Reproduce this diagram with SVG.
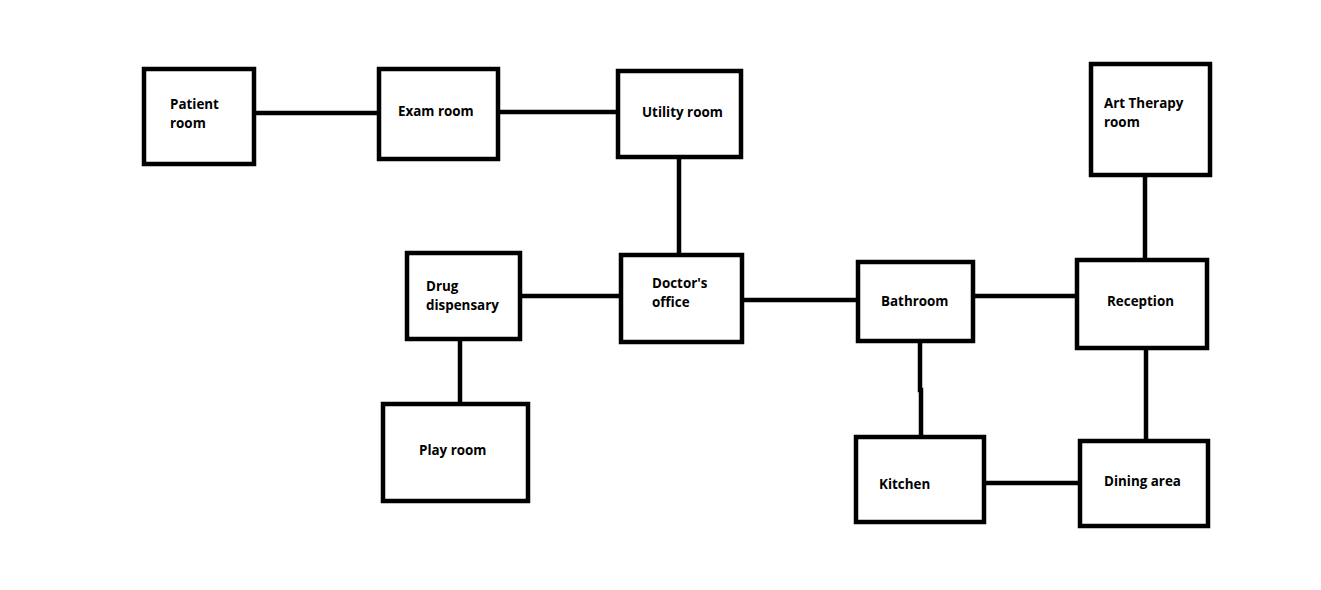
<svg xmlns="http://www.w3.org/2000/svg" width="1321" height="590" viewBox="0 0 1321 590">
<style>
.box{fill:#fff;stroke:#000;stroke-width:4.5}
.lbl{font-family:"Open Sans","DejaVu Sans",sans-serif;font-weight:bold;font-size:13.4px;fill:#000}
#connectors line,#connectors polyline{stroke:#000;stroke-width:4.5;fill:none}
</style>
<rect width="1321" height="590" fill="#fff"/>
<g id="connectors">
<line x1="254" y1="113" x2="379" y2="113"/>
<line x1="498" y1="112" x2="618" y2="112"/>
<line x1="679" y1="157" x2="679" y2="255"/>
<line x1="520" y1="296" x2="621" y2="296"/>
<line x1="460" y1="339" x2="460" y2="404"/>
<line x1="742" y1="300" x2="858" y2="300"/>
<line x1="973" y1="296" x2="1077" y2="296"/>
<line x1="1145" y1="175" x2="1145" y2="260"/>
<polyline points="920,341 920,390 921,390 921,437"/>
<line x1="1146" y1="348" x2="1146" y2="441"/>
<line x1="984" y1="483" x2="1080" y2="483"/>
</g>
<g id="patient-room"><rect class="box" x="144" y="69" width="110" height="95"/><text class="lbl" x="170" y="109">Patient</text><text class="lbl" x="170" y="128">room</text></g>
<g id="exam-room"><rect class="box" x="379" y="69" width="119" height="90"/><text class="lbl" x="398" y="116">Exam room</text></g>
<g id="utility-room"><rect class="box" x="618" y="71" width="123" height="86"/><text class="lbl" x="642" y="117">Utility room</text></g>
<g id="art-therapy-room"><rect class="box" x="1091" y="64" width="119" height="111"/><text class="lbl" x="1104" y="108">Art Therapy</text><text class="lbl" x="1104" y="127">room</text></g>
<g id="drug-dispensary"><rect class="box" x="407" y="253" width="113" height="86"/><text class="lbl" x="426" y="291">Drug</text><text class="lbl" x="426" y="310">dispensary</text></g>
<g id="doctors-office"><rect class="box" x="621" y="255" width="121" height="87"/><text class="lbl" x="652" y="288">Doctor's</text><text class="lbl" x="652" y="307">office</text></g>
<g id="bathroom"><rect class="box" x="858" y="262" width="115" height="79"/><text class="lbl" x="881" y="306">Bathroom</text></g>
<g id="reception"><rect class="box" x="1077" y="260" width="130" height="88"/><text class="lbl" x="1107" y="306">Reception</text></g>
<g id="play-room"><rect class="box" x="383" y="404" width="145" height="97"/><text class="lbl" x="419" y="455">Play room</text></g>
<g id="kitchen"><rect class="box" x="856" y="437" width="128" height="85"/><text class="lbl" x="879" y="489">Kitchen</text></g>
<g id="dining-area"><rect class="box" x="1080" y="441" width="128" height="85"/><text class="lbl" x="1104" y="486">Dining area</text></g>
</svg>
